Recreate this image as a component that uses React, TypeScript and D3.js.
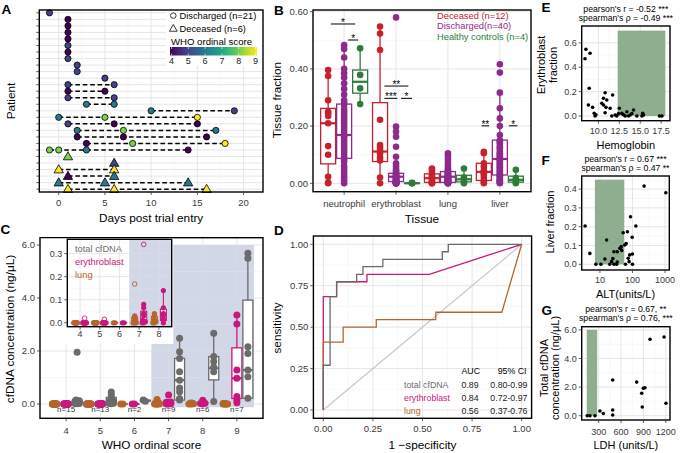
import React from 'react';
import * as d3 from 'd3';

const FONT = '"Liberation Sans", Arial, Helvetica, sans-serif';
const GRID_MAJOR = '#e6e6e6';
const GRID_MINOR = '#f3f3f3';
const TICK_TXT = '#3a3a3a';

/* ---------------- Panel A data ---------------- */
const patientDays: number[][] = [
  [-1], [1], [1], [1], [1], [1], [1], [1], [2], [2], [5],
  [1, 6], [1, 5], [1, 6], [3, 6], [10, 19], [0, 5, 15], [1, 6, 15], [2, 7, 17], [2, 7, 16], [3, 8, 18], [-1, 0, 3, 14],
  [1], [6], [0, 6], [1, 6], [0, 5, 14], [1, 6, 16],
];
const patientScores: number[][] = [
  [5], [4], [4], [4], [4], [5], [4], [5], [5], [5], [5],
  [5, 5], [4, 4], [5, 5], [6, 6], [6, 5], [6, 8, 9], [5, 4, 4], [6, 8, 6], [4, 4, 4], [4, 8, 9], [8, 8, 6, 4],
  [8], [5], [9, 9], [4, 6], [6, 6, 6], [9, 9, 9],
];
const patientOutcome: string[] = [
  'Discharged', 'Discharged', 'Discharged', 'Discharged', 'Discharged', 'Discharged', 'Discharged', 'Discharged',
  'Discharged', 'Discharged', 'Discharged', 'Discharged', 'Discharged', 'Discharged', 'Discharged', 'Discharged',
  'Discharged', 'Discharged', 'Discharged', 'Discharged', 'Discharged', 'Discharged',
  'Deceased', 'Deceased', 'Deceased', 'Deceased', 'Deceased', 'Deceased',
];
const dayTicks = [0, 5, 10, 15, 20];
const dayMinor = [2.5, 7.5, 12.5, 17.5];
const scoreTicks = [4, 5, 6, 7, 8, 9];
const outcomeLegend = ['Discharged (n=21)', 'Deceased (n=6)'];

/* ---------------- Panel B data ---------------- */
const tissues = ['neutrophil', 'erythroblast', 'lung', 'liver'];
const cohortLabels = ['Deceased (n=12)', 'Discharged(n=40)', 'Healthy controls (n=4)'];
const cohortColors = ['#c8202d', '#8c2a8d', '#2e7b3a'];
const fracTicks = [0, 0.2, 0.4, 0.6];
const fracMinor = [0.1, 0.3, 0.5];
// [q1, median, q3, lower whisker, upper whisker]
const boxDeceased = [[0.068, 0.21, 0.262, 0, 0.396], [0.076, 0.111, 0.282, 0, 0.548], [0.003, 0.018, 0.033, 0, 0.052], [0.01, 0.04, 0.07, 0, 0.11]];
const boxDischarged = [[0.087, 0.169, 0.277, 0, 0.483], [0.006, 0.023, 0.035, 0, 0.07], [0.003, 0.023, 0.041, 0, 0.09], [0.029, 0.085, 0.151, 0, 0.317]];
const boxHealthy = [[0.315, 0.355, 0.396, 0.277, 0.472], [0, 0, 0.001, 0, 0.002], [0.005, 0.014, 0.028, 0, 0.052], [0.004, 0.012, 0.025, 0, 0.047]];
const ptsDeceased = [
  [0.396, 0.375, 0.29, 0.25, 0.245, 0.235, 0.21, 0.13, 0.1, 0.023, 0.003, 0],
  [0.548, 0.524, 0.466, 0.222, 0.134, 0.125, 0.115, 0.105, 0.09, 0.08, 0.02, 0],
  [0.052, 0.045, 0.035, 0.03, 0.025, 0.02, 0.015, 0.01, 0.005, 0.002, 0, 0],
  [0.11, 0.105, 0.07, 0.058, 0.045, 0.04, 0.035, 0.03, 0.02, 0.01, 0.005, 0],
];
const ptsDischarged = [
  [0.483, 0.47, 0.44, 0.4, 0.385, 0.37, 0.35, 0.33, 0.31, 0.29, 0.28, 0.275, 0.26, 0.25, 0.24, 0.23, 0.22, 0.21, 0.2, 0.19,
    0.18, 0.17, 0.165, 0.16, 0.15, 0.14, 0.13, 0.12, 0.11, 0.1, 0.09, 0.085, 0.075, 0.06, 0.05, 0.04, 0.03, 0.02, 0.01, 0],
  [0.58, 0.198, 0.18, 0.163, 0.128, 0.093, 0.07, 0.06, 0.05, 0.045, 0.04, 0.035, 0.033, 0.03, 0.028, 0.025, 0.023, 0.022, 0.02, 0.018,
    0.016, 0.014, 0.012, 0.01, 0.009, 0.008, 0.007, 0.006, 0.005, 0.004, 0.003, 0.002, 0.002, 0.001, 0.001, 0, 0, 0, 0, 0],
  [0.105, 0.095, 0.085, 0.075, 0.065, 0.058, 0.05, 0.045, 0.042, 0.04, 0.037, 0.035, 0.032, 0.03, 0.028, 0.026, 0.024, 0.022, 0.02, 0.019,
    0.018, 0.016, 0.015, 0.014, 0.012, 0.011, 0.01, 0.009, 0.008, 0.007, 0.006, 0.005, 0.004, 0.003, 0.002, 0.002, 0.001, 0, 0, 0],
  [0.416, 0.387, 0.317, 0.262, 0.227, 0.2, 0.169, 0.15, 0.145, 0.14, 0.13, 0.125, 0.12, 0.11, 0.105, 0.1, 0.095, 0.09, 0.085, 0.08,
    0.075, 0.07, 0.065, 0.06, 0.055, 0.05, 0.045, 0.04, 0.035, 0.03, 0.028, 0.025, 0.02, 0.015, 0.012, 0.01, 0.008, 0.005, 0.002, 0],
];
const ptsHealthy = [
  [0.472, 0.379, 0.332, 0.277],
  [0.002, 0.001, 0, 0],
  [0.052, 0.02, 0.008, 0],
  [0.047, 0.018, 0.005, 0],
];
const sigLabels = ['*', '*', '**', '***', '*', '**', '*'];
const sigTissue = ['neutrophil', 'neutrophil', 'erythroblast', 'erythroblast', 'erythroblast', 'liver', 'liver'];
const sigFrom = [-0.83, 0.25, -0.73, -0.73, 0.31, -1.14, 0.56];
const sigTo = [0.69, 0.88, 0.77, 0.08, 1.0, -0.67, 1.1];
const sigLevel = [0.557, 0.501, 0.34, 0.297, 0.297, 0.201, 0.201];

/* ---------------- Panel C data ---------------- */
const whoScores = [4, 5, 6, 7, 8, 9];
const whoN = ['n=15', 'n=13', 'n=2', 'n=9', 'n=6', 'n=7'];
const concTicks = [0, 2, 4, 6];
const concMinor = [1, 3, 5];
const cfColors = ['#b4652c', '#c9177e', '#6b6b6b'];
const lungConc = [
  [0, 0, 0, 0, 0, 0, 0, 0, 0, 0, 0, 0, 0, 0, 0],
  [0, 0, 0, 0, 0, 0, 0, 0, 0, 0, 0, 0, 0],
  [0, 0],
  [0.168, 0.03, 0.02, 0.01, 0.005, 0, 0, 0, 0],
  [0.04, 0.03, 0.015, 0.005, 0, 0],
  [0.02, 0.01, 0, 0, 0, 0, 0],
];
const eryConc = [
  [0.02, 0, 0, 0, 0, 0, 0, 0, 0, 0, 0, 0, 0, 0, 0],
  [0.015, 0, 0, 0, 0, 0, 0, 0, 0, 0, 0, 0, 0],
  [0, 0],
  [0.34, 0.08, 0.065, 0.04, 0.03, 0.01, 0.005, 0, 0],
  [0.14, 0.065, 0.04, 0.03, 0.015, 0],
  [3.36, 3.02, 1.28, 0.97, 0.28, 0.15, 0.05],
];
const totalConc = [
  [1.95, 0.15, 0.12, 0.1, 0.09, 0.08, 0.06, 0.05, 0.05, 0.04, 0.03, 0.03, 0.02, 0.02, 0.01],
  [0.45, 0.35, 0.25, 0.18, 0.12, 0.1, 0.08, 0.06, 0.05, 0.04, 0.03, 0.02, 0.01],
  [0.15, 0.1],
  [2.48, 1.97, 1.72, 1.22, 0.9, 0.6, 0.46, 0.21, 0.15],
  [2.67, 1.79, 1.6, 1.4, 1.22, 0.09],
  [5.69, 5.5, 2.16, 1.91, 1.28, 1.03, 0.22],
];
const lungBox = [[0, 0, 0, 0, 0], [0, 0, 0, 0, 0], [0, 0, 0, 0, 0], [0, 0.005, 0.025, 0, 0.03], [0, 0.01, 0.028, 0, 0.04], [0, 0, 0.01, 0, 0.02]];
const eryBox = [[0, 0, 0, 0, 0], [0, 0, 0, 0, 0], [0, 0, 0, 0, 0], [0, 0.01, 0.05, 0, 0.08], [0.01, 0.035, 0.06, 0, 0.14], [0.21, 0.97, 2.12, 0.05, 3.36]];
const totalBox = [[0.02, 0.05, 0.1, 0.01, 0.15], [0.03, 0.08, 0.25, 0.01, 0.45], [0.11, 0.125, 0.14, 0.1, 0.15], [0.15, 0.9, 1.72, 0.05, 2.48], [0.91, 1.35, 1.79, 0.09, 2.67], [0.22, 1.28, 3.92, 0.1, 5.69]];
const insetScores = [4, 5, 6, 7, 8];
const insetTicks = [0, 0.1, 0.2, 0.3];
const insetMinor = [0.05, 0.15, 0.25, 0.35];
const insetLegend = ['total cfDNA', 'erythroblast', 'lung'];

/* ---------------- Panel D data ---------------- */
const rocTotalX = [0, 0, 0.034, 0.034, 0.067, 0.067, 0.168, 0.168, 0.2, 0.2, 0.3, 0.3, 0.6, 0.6, 0.63, 0.63, 1];
const rocTotalY = [0, 0.27, 0.27, 0.684, 0.684, 0.774, 0.774, 0.819, 0.819, 0.865, 0.865, 0.909, 0.909, 0.955, 0.955, 1, 1];
const rocEryX = [0, 0, 0.067, 0.067, 0.22, 0.22, 0.534, 1];
const rocEryY = [0, 0.684, 0.684, 0.774, 0.774, 0.819, 0.819, 1];
const rocLungX = [0, 0, 0.1, 0.1, 0.267, 0.267, 0.567, 0.567, 0.9, 1];
const rocLungY = [0, 0.41, 0.41, 0.5, 0.5, 0.545, 0.545, 0.59, 0.59, 1];
const rocNames = ['total cfDNA', 'erythroblast', 'lung'];
const rocColors = ['#6b6b6b', '#c9177e', '#b4652c'];
const rocAUC = ['0.89', '0.84', '0.56'];
const rocCI = ['0.80-0.99', '0.72-0.97', '0.37-0.76'];
const rocTicks = [0, 0.25, 0.5, 0.75, 1];
const rocMinor = [0.125, 0.375, 0.625, 0.875];

/* ---------------- Panel E/F/G data ---------------- */
const hemoglobin = [8.4, 8.5, 9.0, 8.9, 8.8, 9.3, 9.5, 9.6, 9.7, 10.4, 10.6, 10.8, 11.0, 10.6, 10.9, 10.8, 11.4, 11.7, 11.6, 12.0, 12.2, 12.4, 12.5, 12.8, 13.0, 13.2, 13.4, 13.6, 13.8, 14.0, 14.2, 14.6, 15.2, 15.3, 15.4, 17.3, 17.6];
const eryFraction = [0.47, 0.547, 0.514, 0.227, 0.09, 0.071, 0.022, 0.0, 0.01, 0.104, 0.145, 0.191, 0.131, 0.09, 0.071, 0.027, 0.063, 0.172, 0.0, 0.008, 0.0, 0.02, 0.063, 0.022, 0.01, 0.0, 0.035, 0.0, 0.008, 0.02, 0.049, 0.0, 0.0, 0.022, 0.008, 0.0, 0.0];
const hbNormal = [12.3, 18.0];
const hbTicks = [10, 12.5, 15, 17.5];
const hbMinor = [8.75, 11.25, 13.75, 16.25];
const eryFracTicks = [0, 0.2, 0.4, 0.6];
const eryFracMinor = [0.1, 0.3, 0.5];

const alt = [3.5, 4.9, 7.5, 10.7, 16, 14.2, 20, 22.8, 25, 27, 32.5, 34, 26.9, 34, 41, 45, 47, 51.8, 58, 64, 70, 74, 82, 79, 61, 87, 98, 100, 100, 127, 228, 1058];
const liverFraction = [0.204, 0.058, 0, 0, 0.129, 0.028, 0, 0.014, 0.03, 0, 0, 0.012, 0.067, 0.067, 0.085, 0.094, 0.074, 0.168, 0.103, 0.11, 0.173, 0.032, 0.05, 0.014, 0, 0.253, 0.144, 0, 0.055, 0.204, 0.416, 0.381];
const altNormal = [7, 56];
const altTicks = [10, 100, 1000];
const altMinor = [3.16, 31.6, 316];
const liverTicks = [0, 0.1, 0.2, 0.3, 0.4];
const liverMinor = [0.05, 0.15, 0.25, 0.35, 0.45];

const ldh = [147, 183, 250, 317, 362, 488, 488, 488, 810, 877, 899, 921, 885, 989, 1177, 1203];
const totalCf = [0, 0, 0, 0.33, 0.15, 2.5, 0.4, 0.05, 2.35, 1.57, 1.92, 1.95, 0.61, 5.34, 5.5, 0.87];
const ldhNormal = [140, 280];
const ldhTicks = [300, 600, 900, 1200];
const ldhMinor = [150, 450, 750, 1050];
const cfTicks = [0, 2, 4, 6];
const cfMinor = [1, 3, 5];

/* ---------------- helpers ---------------- */
type Sc = (v: any) => number;

function Frame({ x0, y0, x1, y1 }: { x0: number; y0: number; x1: number; y1: number }) {
  return <rect x={x0} y={y0} width={x1 - x0} height={y1 - y0} fill="none" stroke="#000" strokeWidth={1.4} />;
}

function Grid({ xs, ys, xsMinor = [], ysMinor = [], sx, sy, x0, x1, y0, y1 }: any) {
  return (
    <g>
      {xsMinor.map((v: any, i: number) => <line key={'xm' + i} x1={sx(v)} x2={sx(v)} y1={y0} y2={y1} stroke={GRID_MINOR} strokeWidth={0.6} />)}
      {ysMinor.map((v: any, i: number) => <line key={'ym' + i} x1={x0} x2={x1} y1={sy(v)} y2={sy(v)} stroke={GRID_MINOR} strokeWidth={0.6} />)}
      {xs.map((v: any, i: number) => <line key={'xM' + i} x1={sx(v)} x2={sx(v)} y1={y0} y2={y1} stroke={GRID_MAJOR} strokeWidth={1} />)}
      {ys.map((v: any, i: number) => <line key={'yM' + i} x1={x0} x2={x1} y1={sy(v)} y2={sy(v)} stroke={GRID_MAJOR} strokeWidth={1} />)}
    </g>
  );
}

function XAxis({ vals, sx, y, labelY, fmt, fs = 9.5 }: any) {
  return (
    <g>
      {vals.map((v: any, i: number) => (
        <g key={i}>
          <line x1={sx(v)} x2={sx(v)} y1={y} y2={y + 3} stroke="#333" strokeWidth={0.8} />
          <text x={sx(v)} y={labelY} fontSize={fs} fill={TICK_TXT} textAnchor="middle">{fmt(v)}</text>
        </g>
      ))}
    </g>
  );
}

function YAxis({ vals, sy, x, fmt, fs = 9.5 }: any) {
  return (
    <g>
      {vals.map((v: any, i: number) => (
        <g key={i}>
          <line x1={x - 3} x2={x} y1={sy(v)} y2={sy(v)} stroke="#333" strokeWidth={0.8} />
          {fmt ? <text x={x - 5} y={sy(v) + fs * 0.35} fontSize={fs} fill={TICK_TXT} textAnchor="end">{fmt(v)}</text> : null}
        </g>
      ))}
    </g>
  );
}

function VTitle({ x, y, lines, fs = 11.8 }: { x: number[]; y: number; lines: string[]; fs?: number }) {
  return (
    <g>
      {lines.map((l, i) => (
        <text key={i} transform={`translate(${x[i]},${y}) rotate(-90)`} fontSize={fs} textAnchor="middle" fill="#000">{l}</text>
      ))}
    </g>
  );
}

function Box({ cx, w, s, sy, color, sw = 1.2, fill = '#fff' }: any) {
  const [q1, med, q3, lo, hi] = s;
  return (
    <g>
      <line x1={cx} x2={cx} y1={sy(hi)} y2={sy(q3)} stroke={color} strokeWidth={sw} />
      <line x1={cx} x2={cx} y1={sy(q1)} y2={sy(lo)} stroke={color} strokeWidth={sw} />
      <rect x={cx - w / 2} y={sy(q3)} width={w} height={Math.max(0, sy(q1) - sy(q3))} fill={fill} stroke={color} strokeWidth={sw} />
      <line x1={cx - w / 2} x2={cx + w / 2} y1={sy(med)} y2={sy(med)} stroke={color} strokeWidth={sw * 1.7} />
    </g>
  );
}

// small horizontal spread for points that overlap vertically (display only)
function spread(vals: number[], sy: Sc, px = 2) {
  const order = vals.map((v, i) => ({ v, i })).sort((a, b) => a.v - b.v);
  const dx = new Array(vals.length).fill(0);
  const pattern = [0, -1, 1, -0.5, 0.5];
  let k = 0;
  for (let j = 0; j < order.length; j++) {
    if (j > 0 && Math.abs(sy(order[j].v) - sy(order[j - 1].v)) < 1.5) k++;
    else k = 0;
    dx[order[j].i] = pattern[k % pattern.length] * px;
  }
  return dx;
}

function PanelLabel({ x, y, t }: { x: number; y: number; t: string }) {
  return <text x={x} y={y} fontSize={13.5} fontWeight="bold" fill="#000">{t}</text>;
}

/* ---------------- Panel A ---------------- */
function PanelA() {
  const L = 39.3, R = 263, T = 10, B = 192;
  const x = d3.scaleLinear().domain([-2.1, 22.1]).range([L, R]);
  const rows = patientDays.map((_, i) => i);
  const y = d3.scalePoint<number>().domain(rows).range([T, B]).padding(0.435);
  const color = d3.scaleSequential(d3.interpolateViridis).domain([4, 9]);
  const tri = d3.symbol().type(d3.symbolTriangle).size(38)() as string;
  const triSmall = d3.symbol().type(d3.symbolTriangle).size(26)() as string;
  const cb = d3.scaleLinear().domain([4, 9]).range([171.5, 255.5]);
  const stops = d3.range(0, 1.0001, 0.1);
  return (
    <g>
      <Grid xs={dayTicks} xsMinor={dayMinor} ys={rows} sx={x} sy={y} x0={L} x1={R} y0={T} y1={B} />
      {patientDays.map((ds, r) => ds.length > 1 ? (
        <line key={'d' + r} x1={x(d3.min(ds) as number)} x2={x(d3.max(ds) as number)} y1={y(r)} y2={y(r)}
          stroke="#000" strokeWidth={1.5} strokeDasharray="4.6,2.8" />
      ) : null)}
      {patientDays.map((ds, r) => ds.map((d, j) => patientOutcome[r] === 'Deceased' ? (
        <path key={r + '-' + j} d={tri} transform={`translate(${x(d)},${(y(r) as number) + 0.6})`}
          fill={color(patientScores[r][j])} stroke="#000" strokeWidth={0.8} />
      ) : (
        <circle key={r + '-' + j} cx={x(d)} cy={y(r)} r={3.1} fill={color(patientScores[r][j])} stroke="#000" strokeWidth={0.8} />
      )))}
      {/* legend */}
      <rect x={166} y={11} width={96} height={55} fill="#fff" />
      <circle cx={173.3} cy={15.6} r={2.8} fill="none" stroke="#000" strokeWidth={0.8} />
      <text x={179.5} y={19} fontSize={9.3} fill="#000">{outcomeLegend[0]}</text>
      <path d={triSmall} transform="translate(173.3,29)" fill="none" stroke="#000" strokeWidth={0.8} />
      <text x={179.5} y={32} fontSize={9.3} fill="#000">{outcomeLegend[1]}</text>
      <text x={171} y={45} fontSize={9.6} fill="#000">WHO ordinal score</text>
      <defs>
        <linearGradient id="viridisGrad" x1="0" x2="1" y1="0" y2="0">
          {stops.map((s, i) => <stop key={i} offset={s} stopColor={d3.interpolateViridis(s)} />)}
        </linearGradient>
      </defs>
      <rect x={170} y={47} width={87} height={8.5} fill="url(#viridisGrad)" />
      {scoreTicks.map((s, i) => (
        <g key={i}>
          <line x1={cb(s)} x2={cb(s)} y1={47} y2={49} stroke="#fff" strokeWidth={0.6} />
          <line x1={cb(s)} x2={cb(s)} y1={53.5} y2={55.5} stroke="#fff" strokeWidth={0.6} />
          <text x={cb(s)} y={63.5} fontSize={9} fill="#222" textAnchor="middle">{s}</text>
        </g>
      ))}
      <Frame x0={L} y0={T} x1={R} y1={B} />
      <XAxis vals={dayTicks} sx={x} y={B} labelY={205.5} fmt={(v: number) => String(v)} />
      <YAxis vals={rows} sy={y} x={L} />
      <text x={(L + R) / 2} y={222} fontSize={11.8} textAnchor="middle">Days post trial entry</text>
      <VTitle x={[15]} y={101} lines={['Patient']} />
      <PanelLabel x={1.5} y={13.5} t="A" />
    </g>
  );
}

/* ---------------- Panel B ---------------- */
function PanelB() {
  const L = 313, R = 531, T = 10, B = 191.7;
  const x = d3.scalePoint<string>().domain(tissues).range([L, R]).padding(0.6);
  const y = d3.scaleLinear().domain([0, 0.6]).range([183.3, 11.7]);
  const off = [-16, 0, 16];
  const boxes = [boxDeceased, boxDischarged, boxHealthy];
  const pts = [ptsDeceased, ptsDischarged, ptsHealthy];
  const fmt = d3.format('.2f');
  return (
    <g>
      <Grid xs={tissues} ys={fracTicks} ysMinor={fracMinor} sx={x} sy={y} x0={L} x1={R} y0={T} y1={B} />
      {tissues.map((t, ti) => boxes.map((bg, g) => (
        <Box key={t + g} cx={(x(t) as number) + off[g]} w={15} s={bg[ti]} sy={y} color={cohortColors[g]} sw={1.3} />
      )))}
      {tissues.map((t, ti) => pts.map((pg, g) => pg[ti].map((v, k) => (
        <circle key={t + g + '-' + k} cx={(x(t) as number) + off[g]} cy={y(v)} r={3.3} fill={cohortColors[g]} />
      ))))}
      {sigLabels.map((s, i) => {
        const cx = x(sigTissue[i]) as number;
        const xa = cx + sigFrom[i] * 16, xb = cx + sigTo[i] * 16;
        const yy = y(sigLevel[i]);
        return (
          <g key={'sig' + i}>
            <line x1={xa} x2={xb} y1={yy} y2={yy} stroke="#000" strokeWidth={1} />
            <text x={(xa + xb) / 2} y={yy + 2} fontSize={10} textAnchor="middle" fill="#000">{s}</text>
          </g>
        );
      })}
      {cohortLabels.map((c, i) => (
        <text key={c} x={437} y={18.5 + i * 10.7} fontSize={9.3} fill={cohortColors[i]}>{c}</text>
      ))}
      <Frame x0={L} y0={T} x1={R} y1={B} />
      <XAxis vals={tissues} sx={x} y={B} labelY={207.3} fmt={(v: string) => v} />
      <YAxis vals={fracTicks} sy={y} x={L} fmt={fmt} />
      <text x={(L + R) / 2} y={222.5} fontSize={11.8} textAnchor="middle">Tissue</text>
      <VTitle x={[281]} y={100} lines={['Tissue fraction']} />
      <PanelLabel x={274} y={15} t="B" />
    </g>
  );
}

/* ---------------- Panel C ---------------- */
function PanelC() {
  const L = 40, R = 263, T = 237.7, B = 418.3;
  const x = d3.scalePoint<number>().domain(whoScores).range([L, R]).padding(0.765);
  const step = x.step();
  const y = d3.scaleLinear().domain([0, 6]).range([404, 245]);
  const off = [-11.5, 0, 11];
  const conc = [lungConc, eryConc, totalConc];
  const boxes = [lungBox, eryBox, totalBox];
  const fmt = d3.format('.1f');
  const shadeX0 = ((x(6) as number) + (x(7) as number)) / 2;
  const shadeX1 = (x(9) as number) + step / 2;

  // inset
  const iL = 67.3, iR = 171.7, iT = 239.3, iB = 326.7;
  const ix = d3.scalePoint<number>().domain(insetScores).range([iL, iR]).padding(0.65);
  const iy = d3.scaleLinear().domain([-0.017, 0.362]).range([iB, iT]);
  const ioff = [-4.5, 4.5];
  const iShade0 = ((ix(6) as number) + (ix(7) as number)) / 2;

  return (
    <g>
      <rect x={shadeX0} y={y(6)} width={shadeX1 - shadeX0} height={y(-0.12) - y(6)} fill="#d5dbe8" />
      <Grid xs={whoScores} ys={concTicks} ysMinor={concMinor} sx={x} sy={y} x0={L} x1={R} y0={T} y1={B} />
      <rect x={shadeX0} y={y(6)} width={shadeX1 - shadeX0} height={y(-0.12) - y(6)} fill="#cdd4e3" opacity={0.55} />
      {whoScores.map((s, si) => boxes.map((bg, g) => (
        <Box key={'b' + s + g} cx={(x(s) as number) + off[g]} w={10} s={bg[si]} sy={y} color={cfColors[g]} sw={1.3} />
      )))}
      {whoScores.map((s, si) => conc.map((cg, g) => {
        const dx = spread(cg[si], y, 2.2);
        return cg[si].map((v, k) => (
          <circle key={'p' + s + g + '-' + k} cx={(x(s) as number) + off[g] + dx[k]} cy={y(v)} r={3.5} fill={cfColors[g]} />
        ));
      }))}
      {whoScores.map((s, si) => (
        <text key={'n' + s} x={x(s)} y={412} fontSize={8} fill="#333" textAnchor="middle">{whoN[si]}</text>
      ))}
      <Frame x0={L} y0={T} x1={R} y1={B} />
      <XAxis vals={whoScores} sx={x} y={B} labelY={434.3} fmt={(v: number) => String(v)} />
      <YAxis vals={concTicks} sy={y} x={L} fmt={fmt} />
      <text x={(L + R) / 2} y={449} fontSize={11.8} textAnchor="middle">WHO ordinal score</text>
      <VTitle x={[14]} y={329} lines={['cfDNA concentration (ng/μL)']} />
      <PanelLabel x={0.5} y={233.5} t="C" />

      {/* inset */}
      <rect x={41} y={238.6} width={173.3 - 41} height={344 - 238.6} fill="#fff" />
      <rect x={iShade0} y={iT} width={iR - iShade0} height={iB - iT} fill="#d5dbe8" />
      <Grid xs={insetScores} ys={insetTicks} ysMinor={insetMinor} sx={ix} sy={iy} x0={iL} x1={iR} y0={iT} y1={iB} />
      <rect x={iShade0} y={iT} width={iR - iShade0} height={iB - iT} fill="#cdd4e3" opacity={0.55} />
      {insetScores.map((s, si) => [lungConc, eryConc].map((cg, g) => {
        const bx = g === 0 ? lungBox : eryBox;
        const cx0 = (ix(s) as number) + ioff[g];
        const col = cfColors[g];
        const st = bx[si];
        const inside = cg[si].filter(v => v >= st[3] && v <= st[4]);
        const outside = cg[si].filter(v => v < st[3] || v > st[4]);
        const dx = spread(inside, iy, 1.6);
        return (
          <g key={'ib' + s + g}>
            <Box cx={cx0} w={6} s={st} sy={iy} color={col} sw={1.1} />
            {inside.map((v, k) => <circle key={'i' + k} cx={cx0 + dx[k]} cy={iy(v)} r={2.6} fill={col} />)}
            {outside.map((v, k) => <circle key={'o' + k} cx={cx0} cy={iy(v)} r={2.3} fill="none" stroke={col} strokeWidth={0.9} />)}
          </g>
        );
      }))}
      {insetLegend.map((n, i) => (
        <text key={n} x={75} y={251.5 + i * 13} fontSize={9.3} fill={[cfColors[2], cfColors[1], cfColors[0]][i]}>{n}</text>
      ))}
      <Frame x0={iL} y0={iT} x1={iR} y1={iB} />
      <XAxis vals={insetScores} sx={ix} y={iB} labelY={337} fmt={(v: number) => String(v)} fs={9} />
      <YAxis vals={insetTicks} sy={iy} x={iL} fmt={fmt} fs={9} />
    </g>
  );
}

/* ---------------- Panel D ---------------- */
function PanelD() {
  const L = 313.4, R = 531.6, T = 236, B = 418.3;
  const x = d3.scaleLinear().domain([-0.05, 1.05]).range([L, R]);
  const y = d3.scaleLinear().domain([-0.05, 1.05]).range([B, T]);
  const line = d3.line<number[]>().x(d => x(d[0])).y(d => y(d[1]));
  const curves = [
    rocEryX.map((v, i) => [v, rocEryY[i]]),
    rocLungX.map((v, i) => [v, rocLungY[i]]),
    rocTotalX.map((v, i) => [v, rocTotalY[i]]),
  ];
  const curveColors = [rocColors[1], rocColors[2], rocColors[0]];
  const fmt = d3.format('.2f');
  const fs = 8.8;
  return (
    <g>
      <Grid xs={rocTicks} ys={rocTicks} xsMinor={rocMinor} ysMinor={rocMinor} sx={x} sy={y} x0={L} x1={R} y0={T} y1={B} />
      <line x1={x(0)} y1={y(0)} x2={x(1)} y2={y(1)} stroke="#c4c4c4" strokeWidth={1.1} />
      {curves.map((c, i) => (
        <path key={i} d={line(c) as string} fill="none" stroke={curveColors[i]} strokeWidth={1.3} />
      ))}
      <text x={461.5} y={373.5} fontSize={fs} fill="#000">AUC</text>
      <text x={526.5} y={373.5} fontSize={fs} fill="#000" textAnchor="end">95% CI</text>
      {rocNames.map((n, i) => (
        <g key={n}>
          <text x={404} y={387.5 + i * 13.2} fontSize={fs} fill={rocColors[i]}>{n}</text>
          <text x={461.5} y={387.5 + i * 13.2} fontSize={fs} fill="#222">{rocAUC[i]}</text>
          <text x={527.5} y={387.5 + i * 13.2} fontSize={fs} fill="#222" textAnchor="end">{rocCI[i]}</text>
        </g>
      ))}
      <Frame x0={L} y0={T} x1={R} y1={B} />
      <XAxis vals={rocTicks} sx={x} y={B} labelY={432.3} fmt={fmt} />
      <YAxis vals={rocTicks} sy={y} x={L} fmt={fmt} />
      <text x={(L + R) / 2} y={448.5} fontSize={11.8} textAnchor="middle">1 −specificity</text>
      <VTitle x={[281]} y={328} lines={['sensitivity']} />
      <PanelLabel x={274} y={235} t="D" />
    </g>
  );
}

/* ---------------- Panels E, F, G ---------------- */
function Scatter({ L, R, T, B, x, y, xs, ys, xsMinor, ysMinor, xv, yv, rectX, rectY, xfmt, yfmt, xLabelY }: any) {
  return (
    <g>
      <Grid xs={xs} ys={ys} xsMinor={xsMinor} ysMinor={ysMinor} sx={x} sy={y} x0={L} x1={R} y0={T} y1={B} />
      <rect x={x(rectX[0])} y={y(rectY[1])} width={x(rectX[1]) - x(rectX[0])} height={y(rectY[0]) - y(rectY[1])} fill="#8fae8f" />
      {xv.map((v: number, i: number) => <circle key={i} cx={x(v)} cy={y(yv[i])} r={1.8} fill="#000" />)}
      <Frame x0={L} y0={T} x1={R} y1={B} />
      <XAxis vals={xs} sx={x} y={B} labelY={xLabelY} fmt={xfmt} fs={9} />
      <YAxis vals={ys} sy={y} x={L} fmt={yfmt} fs={9} />
    </g>
  );
}

function PanelE() {
  const L = 581.7, R = 670, T = 26, B = 120.7;
  const x = d3.scaleLinear().domain([8.0, 18.56]).range([L, R]);
  const y = d3.scaleLinear().domain([-0.0385, 0.738]).range([B, T]);
  return (
    <g>
      <Scatter L={L} R={R} T={T} B={B} x={x} y={y} xs={hbTicks} ys={eryFracTicks} xsMinor={hbMinor} ysMinor={eryFracMinor}
        xv={hemoglobin} yv={eryFraction} rectX={hbNormal} rectY={[0, 0.7]}
        xfmt={d3.format('.1f')} yfmt={d3.format('.1f')} xLabelY={134} />
      <text x={(L + R) / 2} y={12} fontSize={8.7} textAnchor="middle">pearson's r = -0.52 ***</text>
      <text x={(L + R) / 2} y={20.5} fontSize={8.7} textAnchor="middle">spearman's ρ = -0.49 ***</text>
      <text x={(L + R) / 2} y={148.5} fontSize={11} textAnchor="middle">Hemoglobin</text>
      <VTitle x={[545, 556.5]} y={65} lines={['Erythroblast', 'fraction']} fs={11} />
      <PanelLabel x={541.5} y={12} t="E" />
    </g>
  );
}

function PanelF() {
  const L = 581.7, R = 669.3, T = 176, B = 270;
  const x = d3.scaleLog().domain([2.75, 1355]).range([L, R]);
  const y = d3.scaleLinear().domain([-0.0303, 0.4697]).range([B, T]);
  return (
    <g>
      <Scatter L={L} R={R} T={T} B={B} x={x} y={y} xs={altTicks} ys={liverTicks} xsMinor={altMinor} ysMinor={liverMinor}
        xv={alt} yv={liverFraction} rectX={altNormal} rectY={[0, 0.45]}
        xfmt={(v: number) => String(v)} yfmt={d3.format('.1f')} xLabelY={282.6} />
      <text x={(L + R) / 2} y={162} fontSize={8.7} textAnchor="middle">pearson's r = 0.67 ***</text>
      <text x={(L + R) / 2} y={170.5} fontSize={8.7} textAnchor="middle">spearman's ρ = 0.47 **</text>
      <text x={(L + R) / 2} y={298} fontSize={11} textAnchor="middle">ALT(units/L)</text>
      <VTitle x={[553.5]} y={222} lines={['Liver fraction']} fs={11} />
      <PanelLabel x={541.5} y={165} t="F" />
    </g>
  );
}

function PanelG() {
  const L = 581.7, R = 670, T = 326.7, B = 420;
  const x = d3.scaleLinear().domain([72, 1257]).range([L, R]);
  const y = d3.scaleLinear().domain([-0.3, 6.22]).range([B, T]);
  return (
    <g>
      <Scatter L={L} R={R} T={T} B={B} x={x} y={y} xs={ldhTicks} ys={cfTicks} xsMinor={ldhMinor} ysMinor={cfMinor}
        xv={ldh} yv={totalCf} rectX={ldhNormal} rectY={[0, 6]}
        xfmt={(v: number) => String(v)} yfmt={d3.format('.1f')} xLabelY={435} />
      <text x={(L + R) / 2} y={312} fontSize={8.7} textAnchor="middle">pearson's r = 0.67, **</text>
      <text x={(L + R) / 2} y={321} fontSize={8.7} textAnchor="middle">spearman's ρ = 0.76, ***</text>
      <text x={(L + R) / 2} y={449} fontSize={11} textAnchor="middle">LDH (units/L)</text>
      <VTitle x={[548, 559]} y={368} lines={['Total cfDNA', 'concentration (ng/μL)']} fs={11} />
      <PanelLabel x={541.5} y={315} t="G" />
    </g>
  );
}

export default function App() {
  return (
    <svg width={685} height={453} style={{ position: 'absolute', left: 0, top: 0, background: '#fff' }} fontFamily={FONT}>
      <rect width={685} height={453} fill="#fff" />
      <PanelA />
      <PanelB />
      <PanelC />
      <PanelD />
      <PanelE />
      <PanelF />
      <PanelG />
    </svg>
  );
}
